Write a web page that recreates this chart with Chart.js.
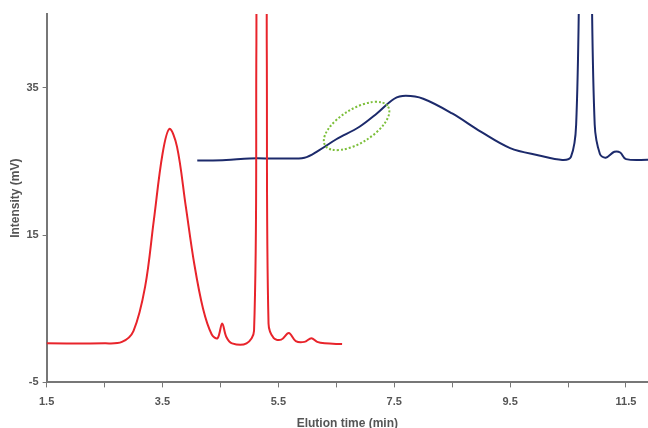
<!DOCTYPE html>
<html><head>
<script src="https://cdn.jsdelivr.net/npm/chart.js@4"></script>
<style>html,body{margin:0;background:#fff}#wrap{width:648px;height:428px}</style>
</head><body><div id="wrap"><canvas id="c"></canvas></div>
<script>
const redSeries = [[1.5,0.3],[2.5,0.3],[2.8,0.5],[3.0,2],[3.2,8],[3.35,17],[3.5,26],[3.62,29.4],[3.75,27],[3.9,19],[4.05,11],[4.2,5],[4.35,1.5],[4.45,1.0],[4.53,3.0],[4.6,1.2],[4.7,0.3],[4.95,0.3],[5.08,2],[5.12,40],[5.14,80],[5.28,80],[5.3,40],[5.33,3],[5.42,1],[5.55,0.8],[5.68,1.7],[5.8,0.6],[5.95,0.5],[6.07,1.0],[6.17,0.5],[6.3,0.3],[6.6,0.2]];
const blueSeries = [[4.1,25.1],[4.6,25.2],[5.0,25.4],[5.5,25.4],[5.95,25.5],[6.2,26.5],[6.5,28],[6.9,29.7],[7.2,31.5],[7.5,33.5],[7.7,33.9],[8.0,33.5],[8.5,31.5],[9.0,29],[9.5,26.8],[10.0,25.8],[10.4,25.2],[10.55,25.6],[10.64,30],[10.7,55],[10.73,80],[10.87,80],[10.9,55],[10.96,30],[11.05,26],[11.15,25.5],[11.3,26.3],[11.4,26.2],[11.5,25.3],[11.9,25.2]];
const yTicks = [-5, 15, 35];
const xLabels = [1.5, 3.5, 5.5, 7.5, 9.5, 11.5];
const shoulder = {x: 6.85, y: 29.8};

const pts = a => a.map(p => ({x: p[0], y: p[1]}));
const ellipse = {
  id: 'ellipse',
  afterDatasetsDraw(chart) {
    const {ctx, scales: {x, y}} = chart;
    ctx.save();
    ctx.strokeStyle = '#7cbf3a'; ctx.lineWidth = 2; ctx.setLineDash([2, 2]);
    ctx.beginPath();
    ctx.ellipse(x.getPixelForValue(shoulder.x), y.getPixelForValue(shoulder.y), 37, 17, -0.55, 0, Math.PI * 2);
    ctx.stroke();
    ctx.restore();
  }
};
const font = {family: 'Arial', size: 11, weight: 'bold'};
new Chart(document.getElementById('c'), {
  type: 'scatter',
  data: {datasets: [
    {data: pts(redSeries), showLine: true, borderColor: '#e8242b', borderWidth: 2, pointRadius: 0, tension: 0.35},
    {data: pts(blueSeries), showLine: true, borderColor: '#1c2a6b', borderWidth: 2, pointRadius: 0, tension: 0.35}
  ]},
  options: {
    animation: false, responsive: true, maintainAspectRatio: false,
    layout: {padding: {top: 14, right: 0, left: 8, bottom: -3}},
    plugins: {legend: {display: false}, tooltip: {enabled: false}},
    scales: {
      x: {type: 'linear', min: 1.5, max: 11.88,
        afterBuildTicks: s => { const t = []; for (let v = 1.5; v <= 11.5; v += 1) t.push({value: v}); s.ticks = t; },
        ticks: {color: '#555', font, maxRotation: 0, autoSkip: false, padding: 8,
          callback: v => xLabels.includes(v) ? v.toFixed(1) : ''},
        grid: {drawOnChartArea: false, color: '#777', tickLength: 5, tickColor: '#777'},
        border: {color: '#777', width: 2},
        title: {display: true, text: 'Elution time (min)', color: '#555', font: {family: 'Arial', size: 12, weight: 'bold'}, padding: {top: 0, bottom: 0}}
      },
      y: {min: -5, max: 45,
        afterBuildTicks: s => { s.ticks = yTicks.map(v => ({value: v})); },
        ticks: {color: '#555', font, padding: 4},
        grid: {drawOnChartArea: false, color: '#777', tickLength: 4},
        border: {color: '#777', width: 2},
        title: {display: true, text: 'Intensity (mV)', color: '#555', font: {family: 'Arial', size: 12, weight: 'bold'}, padding: 0}
      }
    }
  },
  plugins: [ellipse]
});
</script></body></html>
